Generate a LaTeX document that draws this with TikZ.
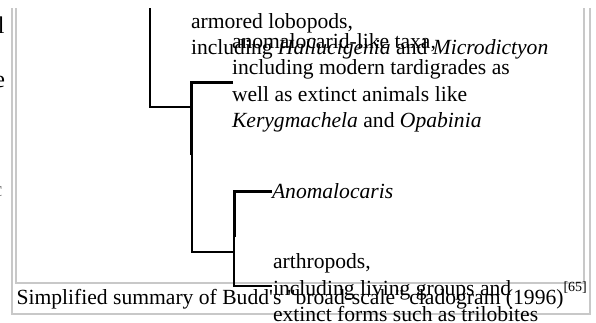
\documentclass[tikz,border=0pt]{standalone}
\usepackage{fontspec}
\setmainfont{Liberation Serif}[Ligatures=TeXOff]
\definecolor{framegray}{RGB}{200,200,200}
\begin{document}
\begin{tikzpicture}[x=1pt,y=-1pt,
  lbl/.style={anchor=base west, inner sep=0pt, outer sep=0pt,
              font=\fontsize{21.6}{26.5}\selectfont},
  edgetxt/.style={anchor=base east, inner sep=0pt, outer sep=0pt,
              font=\fontsize{24}{28}\selectfont},
  thinbr/.style={line width=2pt},
  thickbr/.style={line width=3pt},
  frameline/.style={draw=framegray, line width=2pt}]
\useasboundingbox (0,0) rectangle (596,322);

% neighbouring page text, cut off at the left edge
\begin{scope}
  \clip (0,0) rectangle (9,322);
  \node[edgetxt] (edgeA) at (4.5,33) {l};
  \node[edgetxt] (edgeB) at (5,87) {e};
  \node[edgetxt, font=\fontsize{21.6}{26}\selectfont, text=gray] (edgeC) at (2.5,196) {c};
\end{scope}

% double figure frame (outer box with caption, inner box with the tree)
\draw[frameline] (12,8) -- (12,313.5) -- (590,313.5) -- (590,8);
\draw[frameline] (16,8) -- (16,282.5) -- (584,282.5) -- (584,8);

% caption
\node[lbl] (caption) at (16.5,304)
  {Simplified summary of Budd's "broad-scale" cladogram (1996)\raisebox{12.5pt}{\fontsize{14}{14}\selectfont[65]}};

% branch points of the cladogram
\coordinate (cut)     at (150,8);
\coordinate (j0)      at (150,107);
\coordinate (vA)      at (191.5,107);
\coordinate (vAtop)   at (191.5,82.5);
\coordinate (tipAno)  at (233,82.5);
\coordinate (vAmid)   at (191.5,155);
\coordinate (vAbot)   at (191.5,252);
\coordinate (vB)      at (234,252);
\coordinate (vBtop)   at (234,191);
\coordinate (tipAnoc) at (272,191);
\coordinate (vBmid)   at (234,237);
\coordinate (vBbot)   at (234,286);
\coordinate (tipArth) at (272,286);

% branches
\draw[thinbr]  (cut) -- (j0) -- (vA);
\draw[thickbr] (tipAno) -- (vAtop) -- (vAmid);
\draw[thinbr]  (vAmid) -- (vAbot) -- (vB);
\draw[thickbr] (tipAnoc) -- (vBtop) -- (vBmid);
\draw[thinbr]  (vBmid) -- (vBbot) -- (tipArth);

% taxon labels
\node[lbl] (lobo1) at (191,28)   {armored lobopods,};
\node[lbl] (lobo2) at (191,54.5) {including \textit{Hallucigenia} and \textit{Microdictyon}};
\node[lbl] (ano1)  at (232,48)    {anomalocarid-like taxa,};
\node[lbl] (ano2)  at (232,74.5)  {including modern tardigrades as};
\node[lbl] (ano3)  at (232,101)   {well as extinct animals like};
\node[lbl] (ano4)  at (232,127.5) {\textit{Kerygmachela} and \textit{Opabinia}};
\node[lbl] (anoc)  at (272,198)   {\textit{Anomalocaris}};
\node[lbl] (arth1) at (273,268.5) {arthropods,};
\node[lbl] (arth2) at (273,295)   {including living groups and};
\node[lbl] (arth3) at (273,321.5) {extinct forms such as trilobites};
\end{tikzpicture}
\end{document}
